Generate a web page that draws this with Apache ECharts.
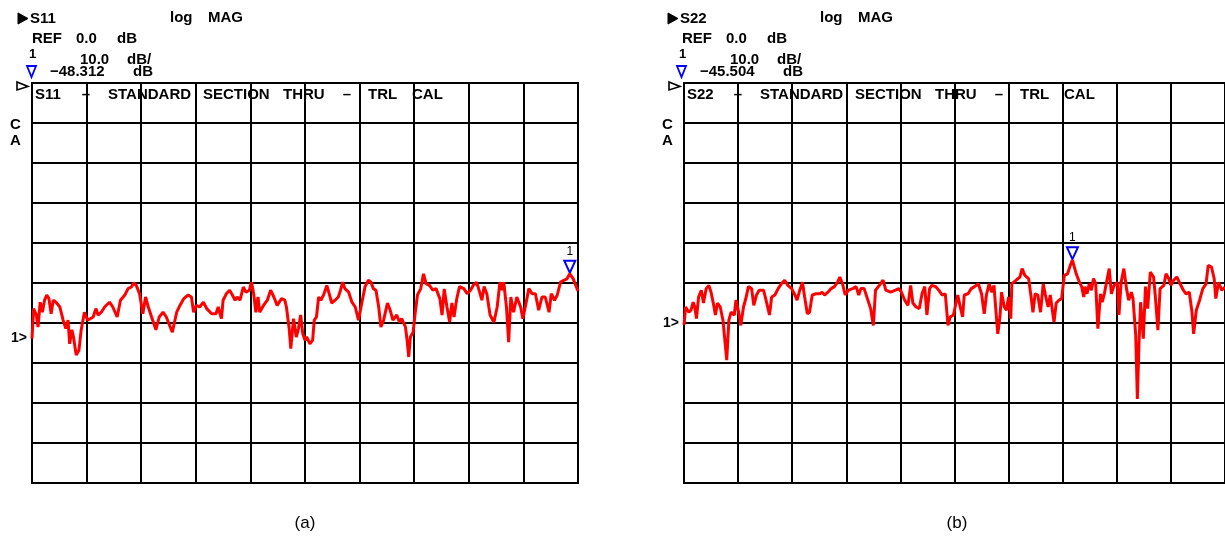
<!DOCTYPE html>
<html>
<head>
<meta charset="utf-8">
<script src="https://cdn.jsdelivr.net/npm/echarts@6/dist/echarts.min.js"></script>
<style>
  html, body { margin: 0; padding: 0; background: #fff; }
  #chart { width: 1225px; height: 539px; }
</style>
</head>
<body>
<div id="chart"></div>
<script>
// trace data: [x position (0-100, 10 per division), magnitude dB]
const s11Trace = [
  [0,-63.9],[0.3,-56.4],[0.8,-58],[1.1,-61],[1.5,-54.8],[1.9,-57.3],[2.3,-54.3],[2.7,-53],[3.1,-53.9],[3.5,-57.7],
  [3.9,-54.3],[4.4,-54.8],[5.1,-56],[5.7,-59.3],[6.2,-61.4],[6.6,-59.3],[6.9,-65.2],[7.3,-61.7],[7.6,-63.5],[8.1,-68],
  [8.6,-66.8],[9.0,-61.8],[9.6,-57.3],[10.2,-59.3],[11.2,-58.5],[11.7,-56.4],[12.1,-58],[12.7,-57.3],[13.3,-56],[14.2,-54.8],
  [14.8,-56],[15.6,-58.5],[16.2,-54.3],[17.0,-53],[17.6,-51.4],[18.2,-51],[18.6,-50],[19.1,-50.6],[19.7,-52.7],[20.3,-57.7],
  [20.8,-53.5],[21.3,-56],[21.9,-58.5],[22.7,-61.7],[23.3,-58.5],[24.0,-57.3],[24.6,-58.5],[25.7,-62.3],[26.5,-57.3],[27.1,-55.6],
  [27.8,-53.9],[28.6,-53],[29.2,-53.5],[29.6,-57.3],[30.1,-55.6],[30.7,-56],[31.4,-54.8],[32.0,-56.4],[32.9,-57.7],[33.7,-57.7],
  [34.1,-56],[34.7,-58.9],[35.0,-54.3],[35.6,-52.7],[36.2,-51.8],[36.7,-53],[37.2,-54.3],[37.6,-53.5],[38.1,-54.3],[38.7,-51],
  [39.2,-52.3],[39.8,-51.8],[40.2,-49.8],[40.6,-52.7],[41.0,-57.3],[41.4,-53.5],[41.7,-57.3],[42.4,-55.6],[43.1,-54.3],[43.7,-51.8],
  [44.3,-53.5],[44.9,-55.6],[45.7,-53.9],[46.3,-54.3],[46.6,-56],[47.1,-61.4],[47.4,-66.4],[47.9,-58.9],[48.4,-63.5],[48.8,-61.4],
  [49.2,-58],[49.6,-62.7],[50.0,-64.3],[50.3,-63.5],[50.9,-65.2],[51.4,-64.3],[51.7,-59.3],[52.1,-58.5],[52.5,-53.5],[52.9,-54.3],
  [53.4,-53],[54.0,-50.6],[54.5,-53],[54.9,-55],[55.5,-54.3],[56.1,-53.5],[56.5,-51.8],[56.9,-49.8],[57.3,-51.4],[58.0,-52.3],
  [58.6,-54.8],[59.2,-56],[59.8,-59.3],[60.4,-55],[61.0,-50.9],[61.6,-49.3],[62.1,-49.8],[62.5,-51.4],[63.0,-51.8],[63.5,-56],
  [63.9,-61],[64.4,-59.3],[65.1,-55],[65.6,-56.8],[66.1,-59.3],[66.8,-58],[67.3,-59.8],[67.7,-58.9],[68.4,-61],[68.7,-64.3],
  [69.0,-68.5],[69.3,-63.5],[69.8,-62.3],[70.2,-57.3],[70.6,-53],[71.2,-51.4],[71.7,-47.7],[72.2,-50.2],[72.8,-50.6],[73.4,-51.8],
  [74.0,-51.4],[74.7,-53.9],[75.1,-58],[75.5,-51.5],[76.0,-56],[76.5,-59.8],[76.9,-55],[77.3,-58.5],[77.8,-53.9],[78.3,-50.9],
  [79.1,-51.4],[79.7,-52.7],[80.3,-51.8],[80.8,-50.6],[81.4,-49.8],[81.8,-51.4],[82.4,-54.3],[82.8,-50.9],[83.3,-52.7],[83.9,-58],
  [84.6,-59.8],[85.2,-56],[85.7,-49.8],[86.1,-51.8],[86.4,-49.8],[86.9,-56],[87.3,-64.8],[87.7,-53.5],[88.2,-57.3],[88.8,-53.5],
  [89.5,-56],[89.9,-58.9],[90.4,-55.6],[91.0,-51.4],[91.6,-52.7],[92.2,-52.7],[92.8,-56.8],[93.4,-53.5],[94.0,-53.5],[94.7,-57.3],
  [95.1,-52.7],[95.7,-54.3],[96.2,-53],[96.8,-49.8],[97.5,-49.3],[98.0,-48.9],[98.5,-47.7],[99.1,-48.9],[100,-52]
];

const s22Trace = [
  [0,-60.5],[0.3,-56],[0.9,-57.3],[1.3,-56.8],[1.7,-54.8],[2.0,-56],[2.3,-58.9],[2.7,-53.5],[3.2,-51.8],[3.6,-55],
  [4.1,-51.4],[4.6,-50.6],[5.0,-52.3],[5.5,-55.6],[5.8,-58],[6.2,-55],[6.7,-56],[7.2,-59.3],[7.5,-63.5],[7.9,-69.3],
  [8.3,-59.3],[8.7,-57.3],[9.3,-58],[9.6,-54.3],[10.1,-57.3],[10.5,-60.6],[11.0,-56],[11.5,-53.5],[11.9,-50.9],[12.5,-51.4],
  [12.9,-55.6],[13.4,-53],[13.9,-51.8],[14.7,-51.8],[15.1,-53.9],[15.8,-58],[16.2,-53.5],[16.8,-53],[17.4,-51.4],[18.0,-50.2],
  [18.6,-49.3],[19.2,-50.6],[19.9,-51.4],[20.5,-53],[20.9,-54.3],[21.4,-51.8],[21.9,-49.8],[22.3,-53.5],[22.8,-57.7],[23.2,-57.3],
  [23.7,-53],[24.4,-52.7],[25.1,-52.7],[25.5,-52.3],[26.0,-53],[26.6,-52.3],[27.2,-51.4],[27.8,-50.9],[28.4,-49.8],[28.8,-48.5],
  [29.3,-50.2],[29.8,-53],[30.4,-51.8],[31.2,-51.4],[31.8,-50.9],[32.3,-53],[32.7,-51.4],[33.3,-51.4],[33.9,-53.9],[34.5,-56.4],
  [35.0,-60.6],[35.4,-51.8],[36.1,-50.6],[36.8,-49.3],[37.3,-51.8],[38.2,-52.3],[39.1,-51.8],[39.7,-51.4],[40.2,-52.3],[40.8,-54.3],
  [41.4,-55.6],[41.9,-50.6],[42.3,-55],[42.9,-56],[43.5,-56.4],[44.0,-52.7],[44.5,-50.9],[44.9,-58],[45.4,-51.4],[45.8,-50.6],
  [46.5,-50.9],[47.1,-51.8],[47.7,-53],[48.3,-52.7],[48.8,-60.6],[49.2,-58.5],[49.8,-58],[50.6,-53],[51.0,-55.6],[51.5,-58.5],
  [51.8,-53],[52.5,-52.7],[53.1,-51.4],[53.7,-50.9],[54.4,-50.2],[55.0,-52.7],[55.5,-57.7],[55.9,-53],[56.4,-50.2],[56.9,-52.3],
  [57.3,-50.6],[57.6,-56],[58.0,-62.7],[58.4,-58.5],[58.7,-52.3],[59.2,-56],[59.6,-56.8],[60.0,-53.5],[60.4,-58.9],[60.6,-50.2],
  [61.4,-49.3],[62.1,-48.5],[62.5,-46.4],[63.0,-48.1],[63.7,-48.9],[64.2,-53.9],[64.5,-57.3],[64.9,-52.7],[65.4,-53],[65.9,-57.3],
  [66.4,-50.2],[66.8,-53],[67.3,-56],[67.7,-53],[68.4,-59.8],[68.8,-55],[69.3,-54.3],[69.8,-53.9],[70.3,-48.1],[70.9,-47.7],
  [71.4,-45.6],[71.8,-44.3],[72.5,-47.7],[73.1,-49.8],[73.5,-50.9],[73.9,-53.5],[74.1,-50.9],[74.5,-52.7],[74.9,-50.2],[75.3,-51.8],
  [75.7,-48.9],[76.1,-50.2],[76.5,-61.4],[77.0,-52.7],[77.3,-54.8],[77.7,-52.7],[78.1,-49.8],[78.6,-46.4],[79.0,-52.7],[79.5,-50.6],
  [80.1,-49.8],[80.4,-58],[80.8,-49.8],[81.3,-46.4],[81.8,-51.4],[82.2,-54.3],[82.7,-52.3],[83.0,-53.9],[83.5,-63.1],[83.8,-79],
  [84.1,-65.2],[84.4,-54.8],[84.9,-63.9],[85.3,-50.9],[85.7,-56.4],[86.2,-47.3],[86.8,-48.5],[87.1,-53],[87.6,-61.8],[88.0,-51.4],
  [88.7,-50.6],[89.1,-47.7],[89.6,-48.9],[90.0,-50.6],[90.5,-49.3],[91.1,-48.5],[91.7,-50.2],[92.3,-51.8],[92.8,-52.7],[93.4,-52.3],
  [93.9,-57.3],[94.2,-62.7],[94.7,-56.8],[95.3,-54.3],[95.9,-51.4],[96.5,-50.2],[96.9,-45.6],[97.5,-46],[98.0,-48.9],[98.3,-53.9],
  [98.8,-49.8],[99.4,-51.8],[100,-51]
];

// marker 1 on each trace
const s11Marker = [98.5, -47.7];
const s22Marker = [71.8, -44.3];
const markerReadouts = ['\u221248.312', '\u221245.504'];
const paramNames = ['S11', 'S22'];
const captions = ['(a)', '(b)'];

// screen scale: 10 divisions across, REF 0.0 dB at top, 10 dB/div
const xMin = 0, xMax = 100, xStep = 10;
const yMin = -100, yMax = 0, yStep = 10;

const FONT = 'bold 15px "Liberation Sans", Arial, sans-serif';
const gridLeft = [32, 684];
const headerDx = [0, 650];
const refMarkY = [338, 323];

function txt(x, y, s, font, fill, align) {
  return {
    type: 'text', x: x, y: y, z: 100, silent: true,
    style: { text: s, font: font || FONT, fill: fill || '#000', textAlign: align || 'left', textVerticalAlign: 'middle' }
  };
}

function tri(points, fill, stroke, lw) {
  return {
    type: 'polygon', z: 100, silent: true,
    shape: { points: points },
    style: { fill: fill, stroke: stroke, lineWidth: lw }
  };
}

const graphics = [];
[0, 1].forEach(i => {
  const d = headerDx[i];
  const g = gridLeft[i];
  graphics.push(
    tri([[18 + d, 13], [28 + d, 18.5], [18 + d, 24]], '#000', '#000', 1),
    txt(30 + d, 19, paramNames[i]),
    txt(170 + d, 18, 'log'),
    txt(208 + d, 18, 'MAG'),
    txt(32 + d, 39, 'REF'),
    txt(76 + d, 39, '0.0'),
    txt(117 + d, 39, 'dB'),
    txt(29 + d, 54, '1', 'bold 13px "Liberation Sans", Arial, sans-serif'),
    txt(80 + d, 60, '10.0'),
    txt(127 + d, 60, 'dB/'),
    txt(50 + d, 72, markerReadouts[i]),
    txt(133 + d, 72, 'dB'),
    tri([[27 + d, 66], [36 + d, 66], [31.5 + d, 77]], 'none', '#0000ff', 1.8),
    tri([[g - 15, 82], [g - 4, 86.5], [g - 15, 90]], 'none', '#000', 1.6),
    // annotation inside the top row of the graticule
    txt(g + 3, 95, paramNames[i]),
    txt(g + 54, 95, '\u2013', null, null, 'center'),
    txt(g + 76, 95, 'STANDARD'),
    txt(g + 171, 95, 'SECTION'),
    txt(g + 251, 95, 'THRU'),
    txt(g + 315, 95, '\u2013', null, null, 'center'),
    txt(g + 336, 95, 'TRL'),
    txt(g + 380, 95, 'CAL'),
    txt(g - 22, 125, 'C'),
    txt(g - 22, 141, 'A'),
    txt(g - 21, refMarkY[i], '1>', 'bold 14px "Liberation Sans", Arial, sans-serif'),
    txt(i === 0 ? 305 : 957, 523, captions[i], '17px "Liberation Sans", Arial, sans-serif', '#000', 'center')
  );
});

const chart = echarts.init(document.getElementById('chart'));

const axisCommon = {
  type: 'value',
  axisLabel: { show: false },
  axisTick: { show: false },
  axisLine: { show: true, lineStyle: { color: '#000', width: 2 } },
  splitLine: { show: true, lineStyle: { color: '#000', width: 2 } }
};

const option = {
  animation: false,
  backgroundColor: '#fff',
  grid: gridLeft.map(l => ({
    left: l, top: 83, width: 546, height: 400,
    show: true, borderColor: '#000', borderWidth: 2, backgroundColor: 'transparent'
  })),
  xAxis: [0, 1].map(i => Object.assign({}, axisCommon, { gridIndex: i, min: xMin, max: xMax, interval: xStep })),
  yAxis: [0, 1].map(i => Object.assign({}, axisCommon, { gridIndex: i, min: yMin, max: yMax, interval: yStep })),
  series: [[s11Trace, s11Marker], [s22Trace, s22Marker]].map((p, i) => ({
    type: 'line',
    xAxisIndex: i,
    yAxisIndex: i,
    data: p[0],
    showSymbol: false,
    z: 5,
    lineStyle: { color: '#ff0000', width: 3 },
    markPoint: {
      symbol: 'triangle',
      symbolRotate: 180,
      symbolSize: [11, 12],
      symbolOffset: [0, -7],
      itemStyle: { color: '#fff', borderColor: '#0000ff', borderWidth: 2 },
      label: {
        show: true, formatter: '1', position: 'top', distance: 2,
        color: '#000', fontSize: 12, fontFamily: 'Liberation Sans, Arial, sans-serif'
      },
      data: [{ coord: p[1] }]
    }
  })),
  graphic: graphics
};

chart.setOption(option);
</script>
</body>
</html>
